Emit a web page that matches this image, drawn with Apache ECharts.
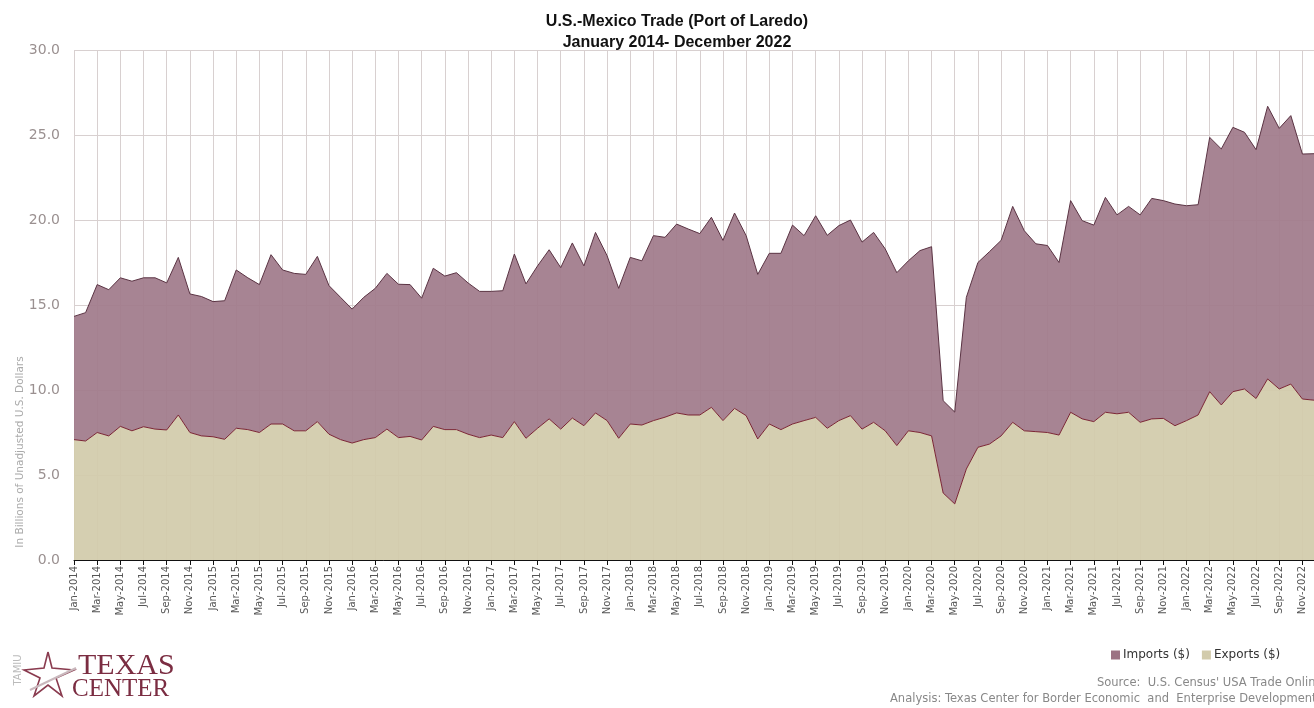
<!DOCTYPE html>
<html>
<head>
<meta charset="utf-8">
<script src="https://cdn.jsdelivr.net/npm/echarts@6/dist/echarts.min.js"></script>
<style>
html,body{margin:0;padding:0;background:#fff;}
#chart{width:1314px;height:708px;}
</style>
</head>
<body>
<div id="chart"></div>
<script>
// ---- data ----
const monthNames = ['Jan','Feb','Mar','Apr','May','Jun','Jul','Aug','Sep','Oct','Nov','Dec'];
const years = [2014,2015,2016,2017,2018,2019,2020,2021,2022];
const yTicks = [0,5,10,15,20,25,30];

// Exports ($ billions), Jan-2014 .. Dec-2022
const exportsVals = [
  7.08,7.00,7.50,7.30,7.86,7.60,7.84,7.70,7.65,8.53,7.50,7.30,
  7.25,7.10,7.75,7.67,7.50,8.00,8.00,7.60,7.60,8.14,7.40,7.08,
  6.88,7.08,7.20,7.70,7.20,7.27,7.06,7.86,7.67,7.67,7.40,7.20,
  7.35,7.20,8.14,7.16,7.75,8.30,7.70,8.35,7.90,8.65,8.20,7.16,
  8.00,7.94,8.20,8.40,8.65,8.53,8.53,8.98,8.20,8.92,8.49,7.12,
  8.00,7.67,8.00,8.20,8.39,7.75,8.20,8.49,7.70,8.10,7.60,6.73,
  7.60,7.50,7.30,3.94,3.30,5.35,6.63,6.82,7.30,8.10,7.60,7.55,
  7.50,7.35,8.69,8.30,8.14,8.69,8.60,8.69,8.10,8.30,8.33,7.90,
  8.20,8.53,9.90,9.12,9.90,10.06,9.50,10.65,10.06,10.35,9.47,9.40
];
// Imports ($ billions), Jan-2014 .. Dec-2022
const importsVals = [
  7.25,7.55,8.70,8.60,8.74,8.80,8.76,8.90,8.65,9.27,8.15,8.20,
  7.95,8.15,9.31,8.93,8.70,9.96,9.06,9.26,9.20,9.72,8.74,8.37,
  7.88,8.37,8.78,9.16,9.02,8.93,8.34,9.30,9.03,9.23,8.90,8.60,
  8.45,8.64,9.86,9.08,9.55,9.95,9.50,10.30,9.40,10.62,9.70,8.82,
  9.80,9.66,10.88,10.58,11.11,10.94,10.67,11.18,10.60,11.49,10.59,9.68,
  10.04,10.37,11.70,10.88,11.86,11.35,11.47,11.51,11.00,11.17,10.70,10.17,
  10.00,10.70,11.13,5.43,5.40,10.10,10.87,11.32,11.50,12.70,11.77,11.05,
  11.00,10.15,12.45,11.66,11.56,12.64,11.70,12.11,12.20,12.97,12.81,13.04,
  12.64,12.37,14.96,15.06,15.55,15.10,14.64,16.04,15.33,15.79,14.41,14.50
];

const categories = [];
years.forEach(y => monthNames.forEach(m => categories.push(m + '-' + y)));

const chart = echarts.init(document.getElementById('chart'), null, {renderer:'canvas'});
const gridCol = '#d8d0d0';
const option = {
  backgroundColor: '#ffffff',
  animation: false,
  title: {
    text: 'U.S.-Mexico Trade (Port of Laredo)\nJanuary 2014- December 2022',
    left: 672, top: 6, textAlign: 'center',
    textStyle: {fontFamily: 'Liberation Sans', fontWeight: 'bold', fontSize: 16, color: '#111', lineHeight: 21}
  },
  legend: {
    data: ['Imports ($)', 'Exports ($)'],
    left: 1106, top: 644,
    icon: 'rect', itemWidth: 9, itemHeight: 9, itemGap: 12,
    textStyle: {fontFamily: 'DejaVu Sans', fontSize: 12, color: '#333', padding: [0,0,0,-2]}
  },
  grid: {left: 74, top: 50, width: 1247, height: 510, containLabel: false},
  xAxis: {
    type: 'category', data: categories, boundaryGap: false,
    axisLine: {show: true, lineStyle: {color: '#111', width: 1}},
    axisTick: {show: true, interval: 1, length: 5, lineStyle: {color: '#111'}},
    axisLabel: {interval: 1, rotate: 90, fontFamily: 'DejaVu Sans', fontSize: 10, color: '#555', margin: 6},
    splitLine: {show: true, interval: 1, lineStyle: {color: gridCol, width: 1}}
  },
  yAxis: {
    type: 'value', min: yTicks[0], max: yTicks[yTicks.length-1], interval: 5,
    axisLine: {show: false}, axisTick: {show: false},
    axisLabel: {formatter: v => v.toFixed(1), fontFamily: 'DejaVu Sans', fontSize: 14, color: '#9a9090', margin: 14},
    splitLine: {show: true, lineStyle: {color: gridCol, width: 1.2}}
  },
  series: [
    {
      name: 'Exports ($)', type: 'line', stack: 'trade', data: exportsVals,
      symbol: 'none', lineStyle: {color: '#7a2434', width: 1},
      itemStyle: {color: '#d2cbab', borderColor: '#8b8468'},
      areaStyle: {color: '#d2cbab', opacity: 0.93}, z: 3
    },
    {
      name: 'Imports ($)', type: 'line', stack: 'trade', data: importsVals,
      symbol: 'none', lineStyle: {color: '#5a3343', width: 1},
      itemStyle: {color: '#9c7283', borderColor: '#5a3343'},
      areaStyle: {color: '#a07b8b', opacity: 0.93}, z: 2
    }
  ],
  graphic: [
    {type: 'text', x: 20, y: 452, rotation: Math.PI/2,
     style: {text: 'In Billions of Unadjusted U.S. Dollars', fontFamily: 'DejaVu Sans', fontSize: 10.5, fill: '#aaa', textAlign: 'center', textVerticalAlign: 'middle'}},
    {type: 'text', x: 1097, y: 677,
     style: {text: "Source:  U.S. Census' USA Trade Online", fontFamily: 'DejaVu Sans', fontSize: 11.5, fill: '#888'}},
    {type: 'text', x: 890, y: 693,
     style: {text: 'Analysis: Texas Center for Border Economic  and  Enterprise Development', fontFamily: 'DejaVu Sans', fontSize: 11.5, fill: '#888'}},
    {type: 'text', x: 18, y: 670, rotation: Math.PI/2,
     style: {text: 'TAMIU', fontFamily: 'DejaVu Sans', fontSize: 10, fill: '#bbb', textAlign: 'center', textVerticalAlign: 'middle'}},
    {type: 'polyline', shape: {points: [[48,652],[52,668],[74,670],[56,678],[62,696],[48,685],[34,696],[40,678],[24,670],[44,668],[48,652]]},
     style: {stroke: '#8a3b4f', fill: 'none', lineWidth: 1.6}},
    {type: 'line', shape: {x1: 30, y1: 690, x2: 76, y2: 668}, style: {stroke: '#c9b8bd', lineWidth: 2}},
    {type: 'text', x: 78, y: 651,
     style: {text: 'TEXAS', fontFamily: 'Liberation Serif', fontSize: 30, fill: '#7b2d42'}},
    {type: 'text', x: 72, y: 677,
     style: {text: 'CENTER', fontFamily: 'Liberation Serif', fontSize: 25, fill: '#7b2d42'}}
  ]
};
chart.setOption(option);
</script>
</body>
</html>
